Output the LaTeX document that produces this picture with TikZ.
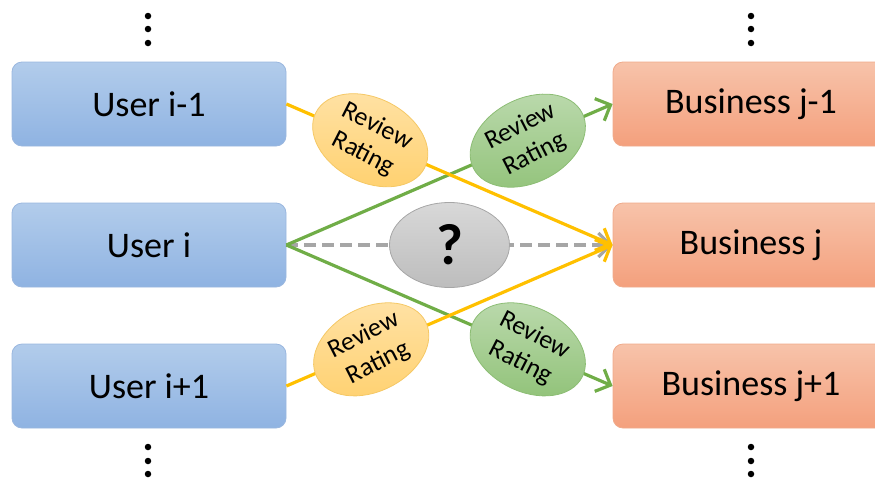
\documentclass[tikz,border=0pt]{standalone}
\usepackage{fontspec}
\setmainfont{Carlito}
\usetikzlibrary{shapes.geometric,arrows.meta}
\definecolor{bluetop}{HTML}{B2CCEB}
\definecolor{bluebot}{HTML}{8FB3E2}
\definecolor{blueedge}{HTML}{9AB7DF}
\definecolor{bustop}{HTML}{F7C3AA}
\definecolor{busbot}{HTML}{F4A07D}
\definecolor{busedge}{HTML}{F0AA8A}
\definecolor{gold}{HTML}{FFC000}
\definecolor{goldtop}{HTML}{FFE2A6}
\definecolor{goldbot}{HTML}{FFD170}
\definecolor{goldedge}{HTML}{F5C865}
\definecolor{grn}{HTML}{70AD47}
\definecolor{grntop}{HTML}{BCDAAE}
\definecolor{grnbot}{HTML}{92C37A}
\definecolor{grnedge}{HTML}{8CBD74}
\definecolor{gry}{HTML}{A6A6A6}
\definecolor{grytop}{HTML}{D8D8D8}
\definecolor{grybot}{HTML}{BDBDBD}
\begin{document}
\begin{tikzpicture}[x=1pt,y=-1pt,
  box/.style={rectangle, rounded corners=10pt, minimum height=84pt, line width=0.8pt, font=\fontsize{36}{40}\selectfont},
  userbox/.style={box, minimum width=274pt, draw=blueedge, top color=bluetop, bottom color=bluebot},
  bizbox/.style={box, minimum width=276pt, draw=busedge, top color=bustop, bottom color=busbot},
  dot/.style={circle, fill=black, inner sep=0pt, minimum size=6.5pt},
  ell/.style={ellipse, minimum width=122pt, minimum height=84pt, inner sep=0pt, align=center, line width=0.8pt, font=\fontsize{26}{31}\selectfont},
  oell/.style={ell, draw=goldedge, top color=goldtop, bottom color=goldbot},
  gell/.style={ell, draw=grnedge, top color=grntop, bottom color=grnbot},
  qell/.style={ellipse, solid, minimum width=120pt, minimum height=85pt, inner sep=0pt, line width=0.8pt, draw=gry, top color=grytop, bottom color=grybot, font=\bfseries\fontsize{58}{58}\selectfont},
  tip/.style={-{Straight Barb[length=12pt,width=24pt]}},
  oline/.style={draw=gold, line width=3.2pt, tip},
  gline/.style={draw=grn, line width=3.2pt, tip},
  qline/.style={draw=gry, line width=3.2pt, dash pattern=on 12pt off 6pt, tip}
]
\useasboundingbox (0,0) rectangle (875,477);
\clip (0,0) rectangle (875,477);

\node[userbox] (u1) at (149,104) {User i-1};
\node[userbox] (u2) at (149,245) {User i};
\node[userbox] (u3) at (149,386) {User i+1};
\node[bizbox] (b1) at (751,104) {Business j-1};
\node[bizbox] (b2) at (751,245) {Business j};
\node[bizbox] (b3) at (751,386) {Business j+1};

\node[dot] (lt1) at (148,16) {};
\node[dot] (lt2) at (148,29) {};
\node[dot] (lt3) at (148,43) {};
\node[dot] (rt1) at (751,16) {};
\node[dot] (rt2) at (751,29) {};
\node[dot] (rt3) at (751,43) {};
\node[dot] (lb1) at (148,447) {};
\node[dot] (lb2) at (148,461) {};
\node[dot] (lb3) at (148,474) {};
\node[dot] (rb1) at (751,447) {};
\node[dot] (rb2) at (751,461) {};
\node[dot] (rb3) at (751,474) {};

\draw[qline] (u2.east) -- node[pos=0.5, qell] (q) {?} (b2.west);
\draw[gline] (u2.east) -- node[pos=0.74, gell, rotate=27] (g1) {Review\\Rating} (b1.west);
\draw[gline] (u2.east) -- node[pos=0.74, gell, rotate=-27] (g2) {Review\\Rating} (b3.west);
\draw[oline] (u1.east) -- node[pos=0.257, oell, rotate=-27] (o1) {Review\\Rating} (b2.west);
\draw[oline] (u3.east) -- node[pos=0.26, oell, rotate=27] (o2) {Review\\Rating} (b2.west);
\end{tikzpicture}
\end{document}
